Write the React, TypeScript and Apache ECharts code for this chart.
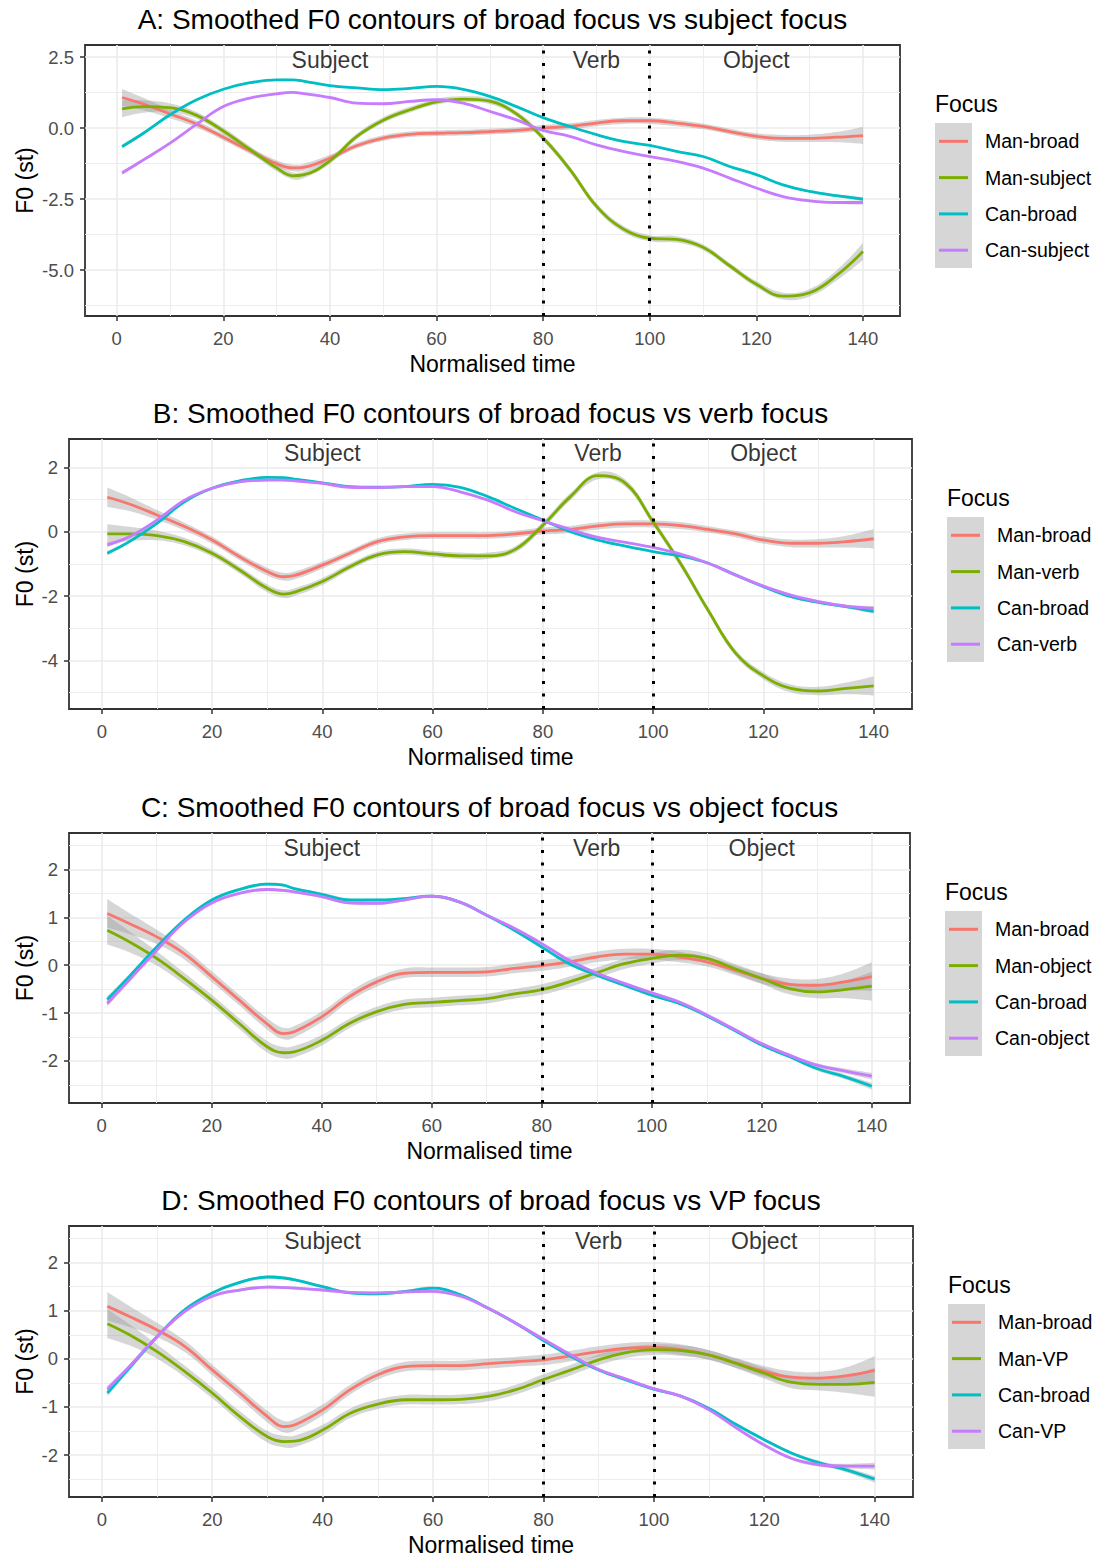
import React, { useEffect, useRef } from "react";
import * as echarts from "echarts";

// ---------------- data ----------------
const TIME = [1, 5, 10, 15, 20, 25, 30, 33, 35, 40, 45, 50, 55, 60, 65, 70, 75, 80, 85, 90, 95, 100, 105, 110, 115, 120, 125, 130, 135, 140];

// standard-error half widths of the smoothing ribbons
const SE_MAN = [0.3, 0.22, 0.15, 0.12, 0.11, 0.11, 0.12, 0.12, 0.12, 0.11, 0.1, 0.1, 0.1, 0.1, 0.1, 0.1, 0.1, 0.11, 0.11, 0.11, 0.11, 0.11, 0.11, 0.1, 0.1, 0.11, 0.12, 0.13, 0.18, 0.3];
const SE_CAN = [0.07, 0.05, 0.04, 0.03, 0.03, 0.03, 0.03, 0.03, 0.03, 0.03, 0.03, 0.03, 0.03, 0.03, 0.03, 0.03, 0.03, 0.03, 0.03, 0.03, 0.03, 0.03, 0.03, 0.03, 0.03, 0.03, 0.03, 0.04, 0.05, 0.07];

const A_MAN_BROAD = [1.08, 0.85, 0.5, 0.14, -0.32, -0.8, -1.25, -1.4, -1.38, -1.05, -0.62, -0.35, -0.22, -0.18, -0.16, -0.12, -0.08, 0.0, 0.06, 0.18, 0.26, 0.26, 0.18, 0.06, -0.12, -0.29, -0.36, -0.36, -0.32, -0.26];
const A_MAN_SUBJECT = [0.68, 0.76, 0.72, 0.45, -0.1, -0.75, -1.4, -1.68, -1.65, -1.15, -0.3, 0.28, 0.65, 0.93, 1.02, 0.95, 0.5, -0.35, -1.45, -2.75, -3.55, -3.88, -3.92, -4.2, -4.85, -5.5, -5.92, -5.8, -5.2, -4.35];
const A_CAN_BROAD = [-0.65, -0.18, 0.47, 1.0, 1.37, 1.6, 1.7, 1.7, 1.66, 1.5, 1.42, 1.36, 1.4, 1.47, 1.37, 1.12, 0.76, 0.37, 0.06, -0.23, -0.47, -0.61, -0.82, -1.0, -1.35, -1.64, -2.0, -2.23, -2.38, -2.5];
const A_CAN_SUBJECT = [-1.58, -1.12, -0.53, 0.14, 0.76, 1.06, 1.21, 1.26, 1.22, 1.08, 0.88, 0.86, 0.94, 1.0, 0.88, 0.59, 0.29, -0.08, -0.29, -0.59, -0.82, -1.0, -1.17, -1.41, -1.76, -2.11, -2.41, -2.56, -2.62, -2.62];

const B_MAN_BROAD = [1.07, 0.86, 0.52, 0.16, -0.26, -0.78, -1.24, -1.4, -1.36, -1.04, -0.67, -0.31, -0.16, -0.12, -0.12, -0.12, -0.07, 0.02, 0.07, 0.18, 0.24, 0.24, 0.19, 0.07, -0.07, -0.26, -0.36, -0.36, -0.31, -0.22];
const B_MAN_VERB = [-0.07, -0.07, -0.12, -0.31, -0.67, -1.19, -1.76, -1.94, -1.88, -1.55, -1.09, -0.72, -0.62, -0.69, -0.75, -0.75, -0.55, 0.2, 1.09, 1.74, 1.5, 0.3, -1.0, -2.45, -3.78, -4.48, -4.87, -4.95, -4.87, -4.79];
const B_CAN_BROAD = [-0.67, -0.31, 0.26, 0.93, 1.35, 1.58, 1.69, 1.68, 1.63, 1.52, 1.4, 1.38, 1.4, 1.47, 1.38, 1.09, 0.72, 0.36, 0.0, -0.26, -0.45, -0.62, -0.76, -0.98, -1.35, -1.71, -2.02, -2.2, -2.33, -2.48];
const B_CAN_VERB = [-0.41, -0.16, 0.36, 0.98, 1.35, 1.55, 1.6, 1.6, 1.58, 1.5, 1.38, 1.37, 1.4, 1.4, 1.24, 0.98, 0.62, 0.34, 0.07, -0.18, -0.33, -0.49, -0.7, -0.98, -1.35, -1.69, -1.97, -2.17, -2.31, -2.38];

const C_MAN_BROAD = [1.08, 0.87, 0.59, 0.24, -0.24, -0.73, -1.22, -1.43, -1.39, -1.08, -0.66, -0.35, -0.17, -0.15, -0.15, -0.14, -0.07, -0.01, 0.07, 0.17, 0.23, 0.23, 0.17, 0.07, -0.1, -0.28, -0.4, -0.42, -0.35, -0.24];
const C_MAN_OBJECT = [0.73, 0.49, 0.14, -0.28, -0.73, -1.22, -1.7, -1.83, -1.81, -1.57, -1.22, -0.97, -0.82, -0.78, -0.74, -0.7, -0.6, -0.51, -0.35, -0.16, 0.03, 0.14, 0.21, 0.14, -0.07, -0.28, -0.49, -0.56, -0.51, -0.44];
const C_CAN_BROAD = [-0.72, -0.24, 0.38, 0.94, 1.36, 1.58, 1.69, 1.67, 1.6, 1.48, 1.36, 1.36, 1.39, 1.44, 1.32, 1.04, 0.73, 0.38, 0.03, -0.21, -0.42, -0.63, -0.8, -1.06, -1.36, -1.67, -1.91, -2.16, -2.33, -2.53];
const C_CAN_OBJECT = [-0.8, -0.31, 0.31, 0.9, 1.3, 1.5, 1.58, 1.56, 1.53, 1.43, 1.3, 1.29, 1.36, 1.44, 1.32, 1.04, 0.77, 0.45, 0.1, -0.17, -0.38, -0.58, -0.77, -1.04, -1.34, -1.64, -1.88, -2.09, -2.21, -2.32];

const D_MAN_BROAD = [1.09, 0.88, 0.6, 0.26, -0.23, -0.71, -1.2, -1.41, -1.37, -1.06, -0.64, -0.33, -0.16, -0.14, -0.14, -0.1, -0.06, -0.02, 0.06, 0.15, 0.22, 0.24, 0.19, 0.08, -0.09, -0.26, -0.38, -0.4, -0.35, -0.24];
const D_MAN_VP = [0.73, 0.5, 0.15, -0.26, -0.71, -1.2, -1.62, -1.72, -1.71, -1.48, -1.13, -0.94, -0.85, -0.85, -0.84, -0.78, -0.64, -0.43, -0.23, -0.02, 0.13, 0.19, 0.17, 0.08, -0.1, -0.3, -0.49, -0.53, -0.53, -0.49];
const D_CAN_BROAD = [-0.71, -0.19, 0.46, 1.02, 1.37, 1.59, 1.7, 1.68, 1.64, 1.5, 1.37, 1.35, 1.4, 1.47, 1.33, 1.05, 0.74, 0.38, 0.05, -0.23, -0.44, -0.63, -0.78, -1.03, -1.37, -1.68, -1.96, -2.16, -2.31, -2.5];
const D_CAN_VP = [-0.63, -0.16, 0.46, 0.98, 1.3, 1.43, 1.49, 1.48, 1.47, 1.43, 1.38, 1.37, 1.39, 1.4, 1.3, 1.05, 0.74, 0.41, 0.08, -0.22, -0.42, -0.62, -0.78, -1.06, -1.44, -1.79, -2.07, -2.2, -2.23, -2.23];

const PANEL_TITLES = [
  "A: Smoothed F0 contours of broad focus vs subject focus",
  "B: Smoothed F0 contours of broad focus vs verb focus",
  "C: Smoothed F0 contours of broad focus vs object focus",
  "D: Smoothed F0 contours of broad focus vs VP focus",
];
const LEGEND_A = ["Man-broad", "Man-subject", "Can-broad", "Can-subject"];
const LEGEND_B = ["Man-broad", "Man-verb", "Can-broad", "Can-verb"];
const LEGEND_C = ["Man-broad", "Man-object", "Can-broad", "Can-object"];
const LEGEND_D = ["Man-broad", "Man-VP", "Can-broad", "Can-VP"];

const X_TICKS = [0, 20, 40, 60, 80, 100, 120, 140];
const Y_TICKS_A = [-5, -2.5, 0, 2.5];
const Y_TICKS_B = [-4, -2, 0, 2];
const Y_TICKS_C = [-2, -1, 0, 1, 2];
const Y_TICKS_D = [-2, -1, 0, 1, 2];

const SEGMENTS = ["Subject", "Verb", "Object"];
const SEGMENT_CENTRES = [40, 90, 120];
const SEGMENT_LABEL_Y = [2.4, 2.44, 2.44, 2.44];
const SEGMENT_BOUNDARIES = [80, 100];

const X_AXIS_TITLE = "Normalised time";
const Y_AXIS_TITLE = "F0 (st)";
const LEGEND_TITLE = "Focus";

// ---------------- styling / layout ----------------
const COLORS = ["#F8766D", "#7CAE00", "#00BFC4", "#C77CFF"];
const FONT = '"Liberation Sans", Arial, Helvetica, sans-serif';
const RIBBON = "rgba(153,153,153,0.4)";
const SMOOTH = 0.4;
const X_MIN = -5.95;
const X_MAX = 146.95;

const PANELS = [
  { series: [A_MAN_BROAD, A_MAN_SUBJECT, A_CAN_BROAD, A_CAN_SUBJECT], names: LEGEND_A, yTicks: Y_TICKS_A, left: 85, right: 900, top: 45, bottom: 316, yMin: -6.62, yMax: 2.93, yStep: 2.5, decimals: 1 },
  { series: [B_MAN_BROAD, B_MAN_VERB, B_CAN_BROAD, B_CAN_VERB], names: LEGEND_B, yTicks: Y_TICKS_B, left: 69, right: 912, top: 439, bottom: 709, yMin: -5.51, yMax: 2.88, yStep: 2, decimals: 0 },
  { series: [C_MAN_BROAD, C_MAN_OBJECT, C_CAN_BROAD, C_CAN_OBJECT], names: LEGEND_C, yTicks: Y_TICKS_C, left: 69, right: 910, top: 833, bottom: 1103, yMin: -2.88, yMax: 2.76, yStep: 1, decimals: 0 },
  { series: [D_MAN_BROAD, D_MAN_VP, D_CAN_BROAD, D_CAN_VP], names: LEGEND_D, yTicks: Y_TICKS_D, left: 69, right: 913, top: 1226, bottom: 1497, yMin: -2.87, yMax: 2.76, yStep: 1, decimals: 0 },
];

function near(list: number[], v: number) {
  return list.some((t) => Math.abs(t - v) < 1e-6);
}

// same control-point rule as ECharts' own smoothed line, so ribbons follow the lines
function ctrl(prev: number[], cur: number[], next: number[], s: number, after: boolean) {
  const vx = next[0] - prev[0];
  const vy = next[1] - prev[1];
  const lp = Math.hypot(cur[0] - prev[0], cur[1] - prev[1]);
  const ln = Math.hypot(next[0] - cur[0], next[1] - cur[1]);
  const tot = lp + ln;
  if (tot === 0) return cur;
  const r = ln / tot;
  return after ? [cur[0] + vx * s * r, cur[1] + vy * s * r] : [cur[0] - vx * s * (1 - r), cur[1] - vy * s * (1 - r)];
}

function smoothSegs(pts: number[][], s: number) {
  let d = "";
  const n = pts.length;
  for (let i = 0; i < n - 1; i++) {
    const p0 = pts[i - 1] || pts[i];
    const p1 = pts[i];
    const p2 = pts[i + 1];
    const p3 = pts[i + 2] || pts[i + 1];
    const c1 = i === 0 ? p1 : ctrl(p0, p1, p2, s, true);
    const c2 = i === n - 2 ? p2 : ctrl(p1, p2, p3, s, false);
    d += ` C ${c1[0]} ${c1[1]} ${c2[0]} ${c2[1]} ${p2[0]} ${p2[1]}`;
  }
  return d;
}

function buildOption() {
  const grid: any[] = [];
  const xAxis: any[] = [];
  const yAxis: any[] = [];
  const series: any[] = [];
  const graphic: any[] = [];

  PANELS.forEach((p, pi) => {
    grid.push({
      left: p.left,
      top: p.top,
      width: p.right - p.left,
      height: p.bottom - p.top,
      show: true,
      borderColor: "#333333",
      borderWidth: 1.8,
      backgroundColor: "transparent",
      containLabel: false,
    });
    xAxis.push({
      gridIndex: pi,
      type: "value",
      min: X_MIN,
      max: X_MAX,
      minInterval: 20,
      maxInterval: 20,
      splitNumber: 7,
      axisLine: { show: false, onZero: false },
      axisTick: { show: true, length: 5, customValues: X_TICKS, lineStyle: { color: "#333333", width: 1.5 } },
      axisLabel: {
        customValues: X_TICKS,
        color: "#4D4D4D",
        fontSize: 18.5,
        fontFamily: FONT,
        margin: 13,
        formatter: (v: number) => (near(X_TICKS, v) ? String(Math.round(v)) : ""),
      },
      splitLine: { show: true, lineStyle: { color: "#EBEBEB", width: 1.6 } },
      minorTick: { show: false, splitNumber: 2 },
      minorSplitLine: { show: true, lineStyle: { color: "#EBEBEB", width: 0.9 } },
    });
    yAxis.push({
      gridIndex: pi,
      type: "value",
      min: p.yMin,
      max: p.yMax,
      minInterval: p.yStep,
      maxInterval: p.yStep,
      axisLine: { show: false, onZero: false },
      axisTick: { show: true, length: 5, customValues: p.yTicks, lineStyle: { color: "#333333", width: 1.5 } },
      axisLabel: {
        customValues: p.yTicks,
        color: "#4D4D4D",
        fontSize: 18.5,
        fontFamily: FONT,
        margin: 11,
        formatter: (v: number) => (near(p.yTicks, v) ? v.toFixed(p.decimals) : ""),
      },
      splitLine: { show: true, lineStyle: { color: "#EBEBEB", width: 1.6 } },
      minorTick: { show: false, splitNumber: 2 },
      minorSplitLine: { show: true, lineStyle: { color: "#EBEBEB", width: 0.9 } },
    });

    p.series.forEach((vals, gi) => {
      const se = gi < 2 ? SE_MAN : SE_CAN;
      // confidence ribbon
      series.push({
        type: "custom",
        xAxisIndex: pi,
        yAxisIndex: pi,
        silent: true,
        z: 2,
        data: [[TIME[0], vals[0]]],
        renderItem: (_params: any, api: any) => {
          const up = TIME.map((t, i) => api.coord([t, vals[i] + se[i]]));
          const lo = TIME.map((t, i) => api.coord([t, vals[i] - se[i]])).reverse();
          const d =
            `M ${up[0][0]} ${up[0][1]}` +
            smoothSegs(up, SMOOTH) +
            ` L ${lo[0][0]} ${lo[0][1]}` +
            smoothSegs(lo, SMOOTH) +
            " Z";
          return { type: "path", shape: { pathData: d }, style: { fill: RIBBON, stroke: null } };
        },
      });
      series.push({
        type: "line",
        name: p.names[gi],
        xAxisIndex: pi,
        yAxisIndex: pi,
        data: TIME.map((t, i) => [t, vals[i]]),
        smooth: SMOOTH,
        symbol: "none",
        showSymbol: false,
        lineStyle: { color: COLORS[gi], width: 2.8 },
        itemStyle: { color: COLORS[gi] },
        z: 2,
      });
    });

    // segment labels + boundaries
    series.push({
      type: "scatter",
      xAxisIndex: pi,
      yAxisIndex: pi,
      data: SEGMENT_CENTRES.map((x, i) => [x, SEGMENT_LABEL_Y[pi], SEGMENTS[i]]),
      symbol: "circle",
      symbolSize: 1,
      clip: false,
      silent: true,
      itemStyle: { color: "transparent" },
      label: {
        show: true,
        position: "inside",
        formatter: (d: any) => d.value[2],
        color: "#000000",
        fontSize: 23,
        fontFamily: FONT,
      },
      markLine: {
        silent: true,
        symbol: "none",
        label: { show: false },
        lineStyle: { type: [3, 9.5], color: "#000000", width: 3, cap: "butt" },
        data: SEGMENT_BOUNDARIES.map((b) => ({ xAxis: b })),
      },
      z: 5,
    });

    const cx = (p.left + p.right) / 2;
    const cy = (p.top + p.bottom) / 2;
    const txt = (text: string, size: number, align: string) => ({
      text,
      fill: "#000",
      fontSize: size,
      fontFamily: FONT,
      align,
      verticalAlign: "middle",
      textAlign: align,
      textVerticalAlign: "middle",
    });
    graphic.push({ type: "text", x: cx, y: p.top - 25.5, style: txt(PANEL_TITLES[pi], 28, "center") });
    graphic.push({ type: "text", x: cx, y: p.bottom + 47.5, style: txt(X_AXIS_TITLE, 23, "center") });
    graphic.push({ type: "text", x: 25, y: cy, rotation: Math.PI / 2, style: txt(Y_AXIS_TITLE, 23, "center") });

    // legend
    const lx = p.right + 35;
    const keyTop = p.top + 78;
    graphic.push({ type: "text", x: lx, y: keyTop - 19, style: txt(LEGEND_TITLE, 23, "left") });
    graphic.push({
      type: "rect",
      shape: { x: lx, y: keyTop, width: 37, height: 145 },
      style: { fill: "#D6D6D6" },
    });
    p.names.forEach((nm, gi) => {
      const ky = keyTop + 18.3 + gi * 36.3;
      graphic.push({
        type: "line",
        shape: { x1: lx + 4, y1: ky, x2: lx + 33, y2: ky },
        style: { stroke: COLORS[gi], lineWidth: 3 },
      });
      graphic.push({ type: "text", x: lx + 50, y: ky, style: txt(nm, 19.5, "left") });
    });
  });

  return {
    animation: false,
    backgroundColor: "#ffffff",
    grid,
    xAxis,
    yAxis,
    series,
    graphic,
  };
}

export default function App() {
  const ref = useRef<HTMLDivElement>(null);
  useEffect(() => {
    document.body.style.margin = "0";
    const chart = echarts.init(ref.current!, undefined, { renderer: "svg", width: 1096, height: 1557 });
    chart.setOption(buildOption());
    return () => chart.dispose();
  }, []);
  return <div ref={ref} style={{ width: 1096, height: 1557, background: "#ffffff" }} />;
}
